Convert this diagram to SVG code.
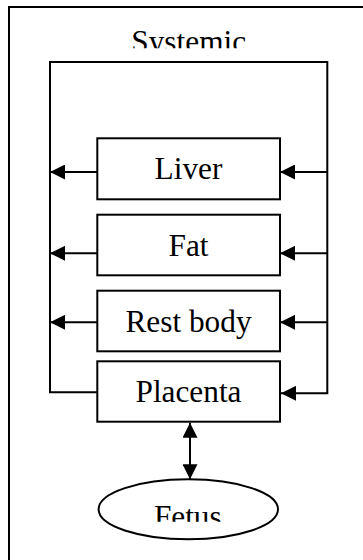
<svg xmlns="http://www.w3.org/2000/svg" width="363" height="560" viewBox="0 0 363 560">
<style>
.box{fill:#fff;stroke:#000;stroke-width:2}
.ln{fill:none;stroke:#000;stroke-width:2}
.lbl{font-family:"Liberation Serif","Times New Roman",serif;font-size:31.3px;fill:#000;text-anchor:middle}
</style>
<defs>
<marker id="ah" markerUnits="userSpaceOnUse" markerWidth="15" markerHeight="15" refX="15" refY="7.5" orient="auto-start-reverse" viewBox="0 0 15 15">
<path d="M0,0 L15,7.5 L0,15 z" fill="#000"/>
</marker>
<clipPath id="clipSys"><rect x="0" y="0" width="363" height="48.3"/></clipPath>
<clipPath id="clipFet"><rect x="0" y="440" width="363" height="81.7"/></clipPath>
</defs>
<rect width="363" height="560" fill="#fff"/>
<g id="frame">
<path class="ln" d="M9,560 V7 H363"/>
</g>
<g id="systemic">
<text class="lbl" x="188.7" y="52.4" clip-path="url(#clipSys)">Systemic</text>
</g>
<g id="connectors">
<path class="ln" d="M97,392.3 H50 V62 H327.3 V393.3 H281" marker-end="url(#ah)"/>
<line class="ln" x1="97" y1="172" x2="50" y2="172" marker-end="url(#ah)"/>
<line class="ln" x1="97" y1="253.3" x2="50" y2="253.3" marker-end="url(#ah)"/>
<line class="ln" x1="97" y1="322.3" x2="50" y2="322.3" marker-end="url(#ah)"/>
<line class="ln" x1="327.3" y1="172" x2="280" y2="172" marker-end="url(#ah)"/>
<line class="ln" x1="327.3" y1="253.3" x2="280" y2="253.3" marker-end="url(#ah)"/>
<line class="ln" x1="327.3" y1="322.3" x2="280" y2="322.3" marker-end="url(#ah)"/>
<line class="ln" x1="190" y1="422.7" x2="190" y2="479.3" marker-start="url(#ah)" marker-end="url(#ah)"/>
</g>
<g id="liver">
<rect class="box" x="97.3" y="138.3" width="182.7" height="61"/>
<text class="lbl" x="188.5" y="179.3">Liver</text>
</g>
<g id="fat">
<rect class="box" x="97.3" y="214.7" width="182.7" height="60.6"/>
<text class="lbl" x="188.5" y="255.7">Fat</text>
</g>
<g id="restbody">
<rect class="box" x="97.3" y="290.7" width="182.7" height="60.6"/>
<text class="lbl" x="188.5" y="331.7">Rest body</text>
</g>
<g id="placenta">
<rect class="box" x="97.3" y="361.3" width="182.7" height="60.4"/>
<text class="lbl" x="188.5" y="402">Placenta</text>
</g>
<g id="fetus">
<ellipse class="box" cx="188.3" cy="509.3" rx="89.7" ry="30"/>
<text class="lbl" x="187.8" y="526.7" clip-path="url(#clipFet)">Fetus</text>
</g>
</svg>
